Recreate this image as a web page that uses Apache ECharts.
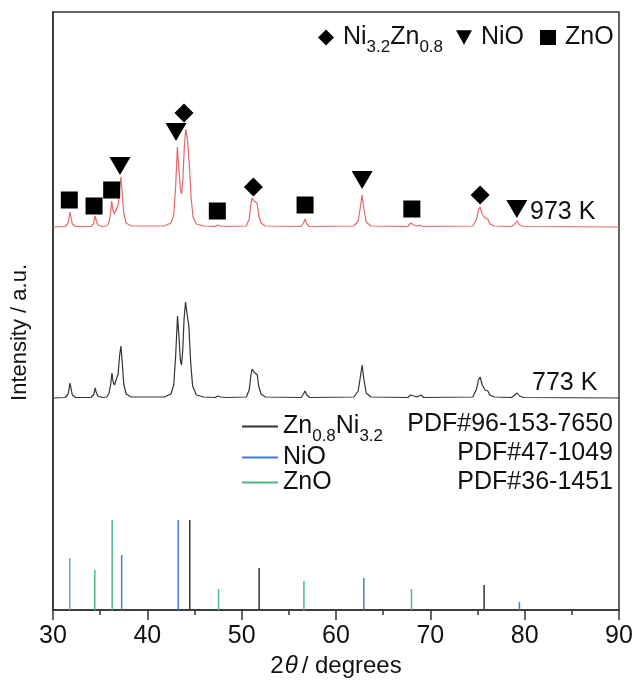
<!DOCTYPE html>
<html><head><meta charset="utf-8">
<script src="https://cdn.jsdelivr.net/npm/echarts@6/dist/echarts.min.js"></script>
<style>html,body{margin:0;padding:0;background:#fff}#c{width:639px;height:685px}</style>
</head><body><div id="c"></div>
<script>
// ---- data (intensities in arbitrary units; offsets stack the two patterns) ----
const offset973 = 383;
const offset773 = 212;
const curve973 = [[30,0],[31.3,0.5],[31.6,4],[31.72,10],[31.8,15],[31.9,10],[32.05,3],[32.4,0.5],
[34.0,0.5],[34.3,3],[34.4,8],[34.47,11],[34.57,7],[34.75,2],[35.2,0.5],
[35.7,1],[35.95,5],[36.12,15],[36.22,26],[36.35,17],[36.5,13],[36.7,14],[36.9,22],[37.1,42],[37.2,50],[37.32,36],[37.5,14],[37.75,4],[38.3,1],
[41.8,1],[42.5,4],[42.8,12],[43.0,40],[43.18,80],[43.33,60],[43.5,38],[43.62,33],[43.75,45],[43.92,80],[44.07,98],[44.25,88],[44.45,62],[44.65,28],[44.85,10],[45.2,3],[46,1],
[47.2,0.5],[47.45,2],[47.6,3],[47.8,1],[48.3,0.5],
[50.5,1],[50.8,8],[50.97,22],[51.1,29],[51.3,26],[51.5,26],[51.63,24],[51.8,12],[52.05,4],[52.5,1],
[56.3,0.5],[56.55,4],[56.72,8],[56.9,3],[57.2,0.5],
[61.9,1],[62.35,6],[62.55,18],[62.77,32],[62.95,18],[63.2,5],[63.7,1],
[67.6,0.5],[67.9,4],[68.07,6],[68.25,2],[68.6,1],[68.9,2],[69.2,0.5],
[74.5,1],[74.9,8],[75.1,17],[75.28,20],[75.5,13],[75.8,9],[76.1,8],[76.3,3],[76.8,1],
[78.6,0.5],[78.95,3],[79.2,6],[79.45,2],[79.9,0.5],[90,0]];
const curve773 = [[30,0],[31.3,0.5],[31.6,4],[31.72,10],[31.8,15],[31.9,10],[32.05,3],[32.4,0.5],
[34.0,0.5],[34.3,3],[34.4,7],[34.47,10],[34.57,6],[34.75,2],[35.2,0.5],
[35.7,1],[35.95,5],[36.12,14],[36.25,25],[36.38,16],[36.52,13],[36.7,15],[36.9,24],[37.08,44],[37.2,52],[37.32,38],[37.5,14],[37.75,4],[38.3,1],
[41.8,1],[42.5,4],[42.8,13],[43.0,42],[43.2,82],[43.35,62],[43.5,38],[43.62,33],[43.75,47],[43.9,80],[44.05,96],[44.2,85],[44.4,72],[44.6,35],[44.8,12],[45.2,3],[46,1],
[47.2,0.5],[47.45,2],[47.6,3],[47.8,1],[48.3,0.5],
[50.5,1],[50.8,8],[50.97,22],[51.1,29],[51.3,26],[51.5,26],[51.66,23],[51.8,12],[52.05,4],[52.5,1],
[56.3,0.5],[56.55,4],[56.72,7],[56.9,3],[57.2,0.5],
[61.9,1],[62.35,7],[62.55,19],[62.77,33],[62.95,19],[63.2,5],[63.7,1],
[67.6,0.5],[67.9,3],[68.05,4],[68.25,2],[68.6,1],[69.0,3],[69.3,0.5],
[74.5,1],[74.9,9],[75.1,18],[75.28,21],[75.5,13],[75.8,8],[76.1,7],[76.3,3],[76.8,1],
[78.6,0.5],[78.95,3],[79.2,5],[79.45,2],[79.9,0.5],[90,0]];
// phase markers above the 973 K pattern
const alloyMarks = [[43.89,497],[51.24,423],[75.28,415]];
const nioMarks = [[37.1,444],[43.04,478],[62.77,430],[79.17,401]];
const znoMarks = [[31.73,410],[34.35,404],[36.22,420],[47.42,399],[56.72,405],[68.04,401]];
// reference patterns (stick positions / relative intensity)
const alloyRefPos = [44.5, 51.85, 75.7];
const alloyRefInt = [90, 42, 25];
const nioRefPos = [37.28, 43.28, 62.95, 79.45];
const nioRefInt = [55, 90, 32, 8];
const znoRefPos = [31.78, 34.43, 36.27, 47.55, 56.6, 68.0];
const znoRefInt = [52, 40, 90, 21, 29, 21];
const refCodes = ['PDF#96-153-7650','PDF#47-1049','PDF#36-1451'];
const xTickValues = [30,40,50,60,70,80,90];

const FONT = '"Liberation Sans", Arial, Helvetica, sans-serif';
const RED = '#e8676b', BLUE = '#3d7fd9', GREEN = '#4dba83';
const triPath = 'path://M0,0L20,0L10,18Z';

const chart = echarts.init(document.getElementById('c'), null, {renderer:'canvas'});
const rich = {
  n:{fontSize:25, fontFamily:FONT, color:'#111', lineHeight:29},
  s:{fontSize:17, fontFamily:FONT, color:'#111', lineHeight:17, verticalAlign:'bottom', padding:[0,0,-4,0]}
};
function fmt(name){
  if(name==='Ni3.2Zn0.8') return '{n|Ni}{s|3.2}{n|Zn}{s|0.8}';
  if(name==='Zn0.8Ni3.2') return '{n|Zn}{s|0.8}{n|Ni}{s|3.2}';
  if(name==='NiO ref') return '{n|NiO}';
  if(name==='ZnO ref') return '{n|ZnO}';
  return '{n|'+name+'}';
}
const stick = (pos, val) => pos.map((p,i)=>[p,val[i]]);
const shift = (arr, off) => arr.map(d=>[d[0], d[1]+off]);

chart.setOption({
  animation:false,
  backgroundColor:'#fff',
  grid:{left:53, right:20, top:12, bottom:75, show:true, borderColor:'#333', borderWidth:1.5, backgroundColor:'transparent'},
  xAxis:{type:'value', min:30, max:90, interval:10,
    axisLine:{show:true, onZero:false, lineStyle:{color:'#333', width:1.5}},
    axisTick:{show:true, inside:false, length:10, lineStyle:{color:'#333', width:1.5}},
    minorTick:{show:true, splitNumber:2, length:5, lineStyle:{color:'#333', width:1.5}},
    splitLine:{show:false},
    axisLabel:{fontSize:25, fontFamily:FONT, color:'#111', margin:14,
      formatter:v=> xTickValues.includes(v)? String(v) : ''},
    name:'{n|2}{i|θ}{n|/ degrees}', nameLocation:'middle', nameGap:44,
    nameTextStyle:{rich:{n:{fontSize:24, fontFamily:FONT, color:'#111'}, i:{fontSize:24, fontFamily:FONT, fontStyle:'italic', color:'#111', padding:[0,4,0,1]}}}
  },
  yAxis:{type:'value', min:0, max:598,
    axisLine:{show:true, lineStyle:{color:'#333', width:1.5}},
    axisTick:{show:false}, axisLabel:{show:false}, splitLine:{show:false}},
  legend:[
    {data:['Ni3.2Zn0.8'], left:313, top:20, itemWidth:16, itemHeight:16, itemGap:0,
      formatter:fmt, textStyle:{rich:rich, padding:[0,0,0,4]}},
    {data:['NiO'], left:451, top:20, itemWidth:16, itemHeight:15, formatter:fmt, textStyle:{rich:rich, padding:[0,0,0,4]}},
    {data:['ZnO'], left:535, top:20, itemWidth:16, itemHeight:15, formatter:fmt, textStyle:{rich:rich, padding:[0,0,0,4]}},
    {data:['Zn0.8Ni3.2','NiO ref','ZnO ref'], orient:'vertical', left:237, top:409, itemGap:0,
      itemWidth:36, itemHeight:2, icon:'rect', formatter:fmt, textStyle:{rich:rich, padding:[0,0,0,0]}}
  ],
  graphic:[
    {type:'text', left:530, top:200, style:{text:'973 K', font:'25px '+FONT, fill:'#111'}},
    {type:'text', left:532, top:371, style:{text:'773 K', font:'25px '+FONT, fill:'#111'}},
    {type:'text', right:26, top:412, style:{text:refCodes[0], font:'25px '+FONT, fill:'#111', textAlign:'right'}},
    {type:'text', right:26, top:441, style:{text:refCodes[1], font:'25px '+FONT, fill:'#111', textAlign:'right'}},
    {type:'text', right:26, top:470, style:{text:refCodes[2], font:'25px '+FONT, fill:'#111', textAlign:'right'}},
    {type:'text', left:9, top:264, rotation:Math.PI/2, style:{text:'Intensity / a.u.', font:'22px '+FONT, fill:'#111'}}
  ],
  series:[
    {type:'line', name:'973 K', data:shift(curve973, offset973), showSymbol:false, symbol:'none',
      lineStyle:{color:RED, width:1.2}, z:3},
    {type:'line', name:'773 K', data:shift(curve773, offset773), showSymbol:false, symbol:'none',
      lineStyle:{color:'#333', width:1.2}, z:3},
    {type:'scatter', name:'Ni3.2Zn0.8', data:alloyMarks, symbol:'diamond', symbolSize:[19,19], itemStyle:{color:'#000', opacity:1}, z:4},
    {type:'scatter', name:'NiO', data:nioMarks, symbol:triPath, symbolSize:[21,18], itemStyle:{color:'#000', opacity:1}, z:4},
    {type:'scatter', name:'ZnO', data:znoMarks, symbol:'rect', symbolSize:[17,17], itemStyle:{color:'#000', opacity:1}, z:4},
    {type:'bar', name:'Zn0.8Ni3.2', data:stick(alloyRefPos, alloyRefInt), barWidth:1.5, barGap:'-100%', itemStyle:{color:'#333'}},
    {type:'bar', name:'NiO ref', data:stick(nioRefPos, nioRefInt), barWidth:1.5, barGap:'-100%', itemStyle:{color:BLUE}},
    {type:'bar', name:'ZnO ref', data:stick(znoRefPos, znoRefInt), barWidth:1.5, barGap:'-100%', itemStyle:{color:GREEN}}
  ]
});
</script></body></html>
